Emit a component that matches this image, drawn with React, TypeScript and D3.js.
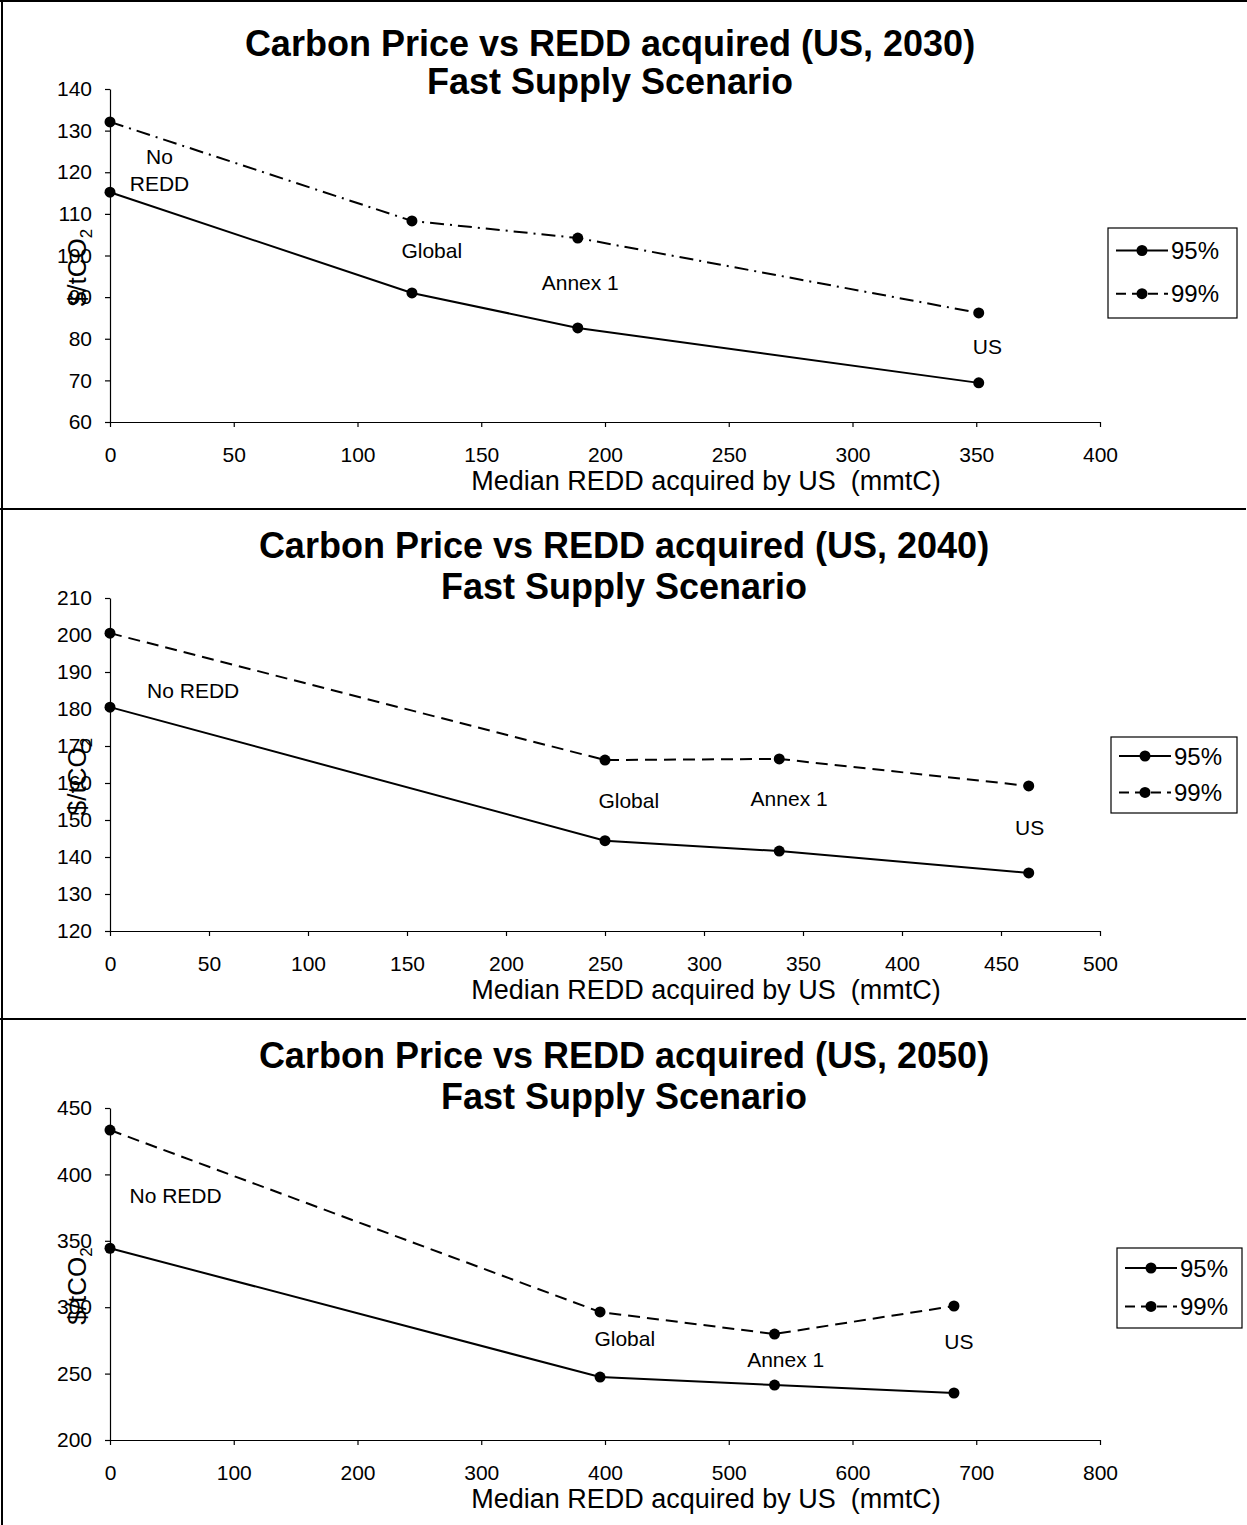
import React, { useEffect, useRef } from 'react';
import * as d3 from 'd3';

// 2030 panel
const x2030 = [0, 122, 189, 351];
const p95_2030 = [115.2, 91, 82.6, 69.4];
const p99_2030 = [132.1, 108.3, 104.2, 86.2];
const lbl2030 = [['No', 'REDD'], ['Global'], ['Annex 1'], ['US']];

// 2040 panel
const x2040 = [0, 250, 338, 464];
const p95_2040 = [180.5, 144.4, 141.6, 135.7];
const p99_2040 = [200.5, 166.2, 166.5, 159.2];
const lbl2040 = [['No REDD'], ['Global'], ['Annex 1'], ['US']];

// 2050 panel
const x2050 = [0, 396, 537, 682];
const p95_2050 = [344.4, 247.4, 241.4, 235.4];
const p99_2050 = [433.4, 296.4, 279.8, 300.9];
const lbl2050 = [['No REDD'], ['Global'], ['Annex 1'], ['US']];

const seriesNames = ['95%', '99%'];
const titles = [
  'Carbon Price vs REDD acquired (US, 2030)',
  'Carbon Price vs REDD acquired (US, 2040)',
  'Carbon Price vs REDD acquired (US, 2050)',
];
const subtitle = 'Fast Supply Scenario';
const xTitle = 'Median REDD acquired by US\u00a0\u00a0(mmtC)';

const panels = [
  {
    title: titles[0], xs: x2030, s95: p95_2030, s99: p99_2030, labels: lbl2030,
    xDomain: [0, 400], xStep: 50, yDomain: [60, 140], yStep: 10,
    titleY: [56, 94], yRange: [422, 89], dash99: '14,6,2,6', titleX: 610,
    // label positions in data units (x, y)
    labelPos: [[20, 122], [130, 99.5], [190, 91.8], [354.5, 76.3]],
    legend: { x: 1108, y: 228, w: 129, h: 90 },
  },
  {
    title: titles[1], xs: x2040, s95: p95_2040, s99: p99_2040, labels: lbl2040,
    xDomain: [0, 500], xStep: 50, yDomain: [120, 210], yStep: 10,
    titleY: [558, 599], yRange: [931, 598], dash99: '12,7', titleX: 624,
    labelPos: [[42, 183.1], [262, 153.2], [343, 153.7], [464.5, 145.9]],
    legend: { x: 1111, y: 737, w: 126, h: 76 },
  },
  {
    title: titles[2], xs: x2050, s95: p95_2050, s99: p99_2050, labels: lbl2050,
    xDomain: [0, 800], xStep: 100, yDomain: [200, 450], yStep: 50,
    titleY: [1068, 1109], yRange: [1440, 1108], dash99: '12,7', titleX: 624,
    labelPos: [[53, 378.5], [416, 270.8], [546, 254.8], [686, 268.5]],
    legend: { x: 1117, y: 1248, w: 125, h: 80 },
  },
];

const FONT = 'Liberation Sans, Arial, sans-serif';

const App = () => {
  const svgRef = useRef<SVGSVGElement>(null);

  useEffect(() => {
    const svg = d3.select(svgRef.current);
    svg.selectAll('*').remove();

    svg.append('rect').attr('width', 1247).attr('height', 1525).attr('fill', 'white');

    // frame lines
    svg.append('line').attr('x1', 2).attr('x2', 2).attr('y1', 0).attr('y2', 1525)
      .attr('stroke', '#000').attr('stroke-width', 2);
    svg.append('line').attr('x1', 0).attr('x2', 1247).attr('y1', 1).attr('y2', 1)
      .attr('stroke', '#000').attr('stroke-width', 2);
    [509, 1019].forEach(y => {
      svg.append('line').attr('x1', 0).attr('x2', 1246).attr('y1', y).attr('y2', y)
        .attr('stroke', '#000').attr('stroke-width', 2);
    });

    panels.forEach(p => {
      const g = svg.append('g');
      const x = d3.scaleLinear().domain(p.xDomain).range([110, 1100]);
      const y = d3.scaleLinear().domain(p.yDomain).range(p.yRange);

      // titles
      [p.title, subtitle].forEach((t, i) => {
        g.append('text').attr('x', p.titleX).attr('y', p.titleY[i])
          .attr('text-anchor', 'middle').attr('font-family', FONT)
          .attr('font-weight', 'bold').attr('font-size', 36).text(t);
      });

      const xTicks = d3.range(p.xDomain[0], p.xDomain[1] + 1, p.xStep);
      const yTicks = d3.range(p.yDomain[0], p.yDomain[1] + 1, p.yStep);

      g.append('g')
        .attr('transform', `translate(0,${p.yRange[0]})`)
        .call(d3.axisBottom(x).tickValues(xTicks).tickSize(5).tickSizeOuter(0).tickPadding(20))
        .call(a => a.selectAll('text').attr('font-size', 21).attr('font-family', FONT).attr('fill', '#000'));

      g.append('g')
        .attr('transform', 'translate(110,0)')
        .call(d3.axisLeft(y).tickValues(yTicks).tickSize(5).tickSizeOuter(0).tickPadding(13))
        .call(a => a.selectAll('text').attr('font-size', 21).attr('font-family', FONT).attr('fill', '#000'));

      g.selectAll('.domain, .tick line').attr('stroke', '#000').attr('stroke-width', 1.2);

      // axis titles
      g.append('text').attr('x', 706).attr('y', p.yRange[0] + 68)
        .attr('text-anchor', 'middle').attr('font-family', FONT).attr('font-size', 27)
        .text(xTitle);
      const yl = g.append('text')
        .attr('transform', `translate(86,${(p.yRange[0] + p.yRange[1]) / 2 + 12}) rotate(-90)`)
        .attr('text-anchor', 'middle').attr('font-family', FONT).attr('font-size', 26);
      yl.append('tspan').text('$/tCO');
      yl.append('tspan').attr('font-size', 17).attr('dy', 6).text('2');

      const line = d3.line<number>().x((_, i) => x(p.xs[i])).y(d => y(d));

      [p.s95, p.s99].forEach((s, si) => {
        g.append('path').datum(s).attr('d', line).attr('fill', 'none')
          .attr('stroke', '#000').attr('stroke-width', 2)
          .attr('stroke-dasharray', si === 1 ? p.dash99 : null);
        g.selectAll(null).data(s).enter().append('circle')
          .attr('cx', (_, i) => x(p.xs[i])).attr('cy', d => y(d))
          .attr('r', 5.5).attr('fill', '#000');
      });

      // point labels
      p.labels.forEach((lines, i) => {
        const [lx, ly] = p.labelPos[i];
        const t = g.append('text').attr('x', x(lx)).attr('y', y(ly))
          .attr('text-anchor', 'middle').attr('font-family', FONT).attr('font-size', 21);
        lines.forEach((ln, j) => {
          t.append('tspan').attr('x', x(lx)).attr('dy', j === 0 ? 0 : 27).text(ln);
        });
      });

      // legend
      const L = p.legend;
      g.append('rect').attr('x', L.x).attr('y', L.y).attr('width', L.w).attr('height', L.h)
        .attr('fill', 'white').attr('stroke', '#000').attr('stroke-width', 1.2);
      seriesNames.forEach((nm, i) => {
        const cy = L.y + L.h * (i === 0 ? 0.25 : 0.73);
        g.append('line').attr('x1', L.x + 8).attr('x2', L.x + 60).attr('y1', cy).attr('y2', cy)
          .attr('stroke', '#000').attr('stroke-width', 2)
          .attr('stroke-dasharray', i === 1 ? '10,6' : null);
        g.append('circle').attr('cx', L.x + 34).attr('cy', cy).attr('r', 5.5).attr('fill', '#000');
        g.append('text').attr('x', L.x + 63).attr('y', cy + 8.5)
          .attr('font-family', FONT).attr('font-size', 24).text(nm);
      });
    });
  }, []);

  return (
    <div style={{ position: 'absolute', left: 0, top: 0 }}>
      <svg ref={svgRef} width={1247} height={1525} style={{ display: 'block' }} />
    </div>
  );
};

export default App;
